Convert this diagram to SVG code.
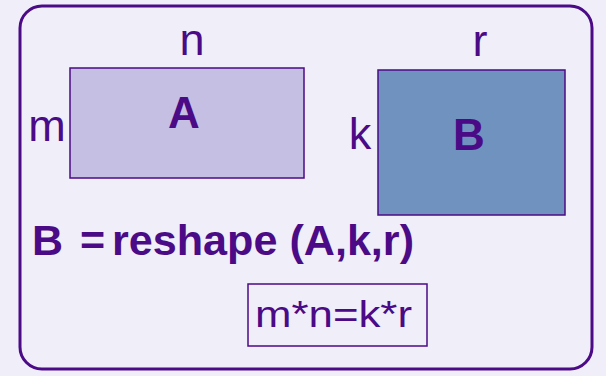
<svg xmlns="http://www.w3.org/2000/svg" width="606" height="376" viewBox="0 0 606 376">
<style>
.lbl{font-family:"Liberation Sans",Arial,sans-serif;font-size:45px;fill:#4B0A86}
.bold{font-family:"Liberation Sans",Arial,sans-serif;font-weight:bold;fill:#4B0A86}
.mat{stroke:#4B0A86;stroke-width:1.5}
</style>
<rect width="606" height="376" fill="#F0EEF8"/>
<g id="frame">
<rect x="20" y="6" width="572" height="363" rx="22" ry="22" fill="#F0EEF8" stroke="#4B0A86" stroke-width="3"/>
</g>
<g id="matrixA">
<rect class="mat" x="70" y="68" width="234" height="110" fill="#C6BFE4"/>
<text class="bold" x="184" y="128" font-size="44" text-anchor="middle">A</text>
<text class="lbl" x="192" y="55" text-anchor="middle">n</text>
<text class="lbl" x="47" y="141" text-anchor="middle">m</text>
</g>
<g id="matrixB">
<rect class="mat" x="378" y="70" width="187" height="145" fill="#6F93BE"/>
<text class="bold" x="469" y="150" font-size="44" text-anchor="middle">B</text>
<text class="lbl" x="480" y="56" text-anchor="middle">r</text>
<text class="lbl" x="360" y="149" text-anchor="middle">k</text>
</g>
<g id="formula">
<text class="bold" y="255" font-size="43"><tspan x="32">B</tspan><tspan x="80">=</tspan><tspan x="112" textLength="302" lengthAdjust="spacingAndGlyphs">reshape (A,k,r)</tspan></text>
</g>
<g id="condition">
<rect x="248" y="284" width="179" height="62" fill="none" stroke="#4B0A86" stroke-width="1.5"/>
<text class="lbl" x="255" y="327" style="font-size:37px" textLength="157" lengthAdjust="spacingAndGlyphs">m*n=k*r</text>
</g>
</svg>
